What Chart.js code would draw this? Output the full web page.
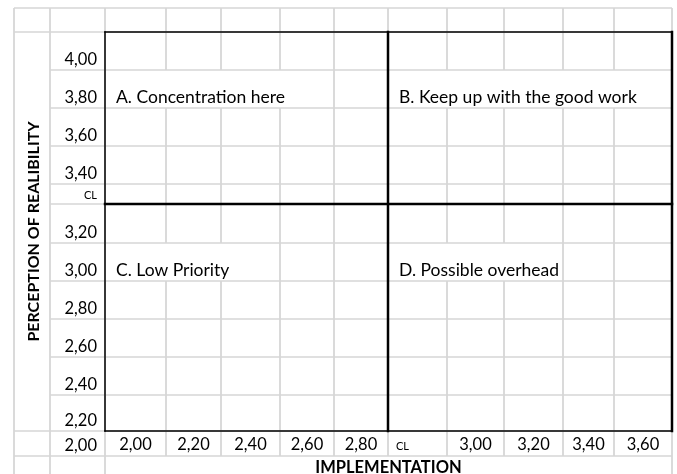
<!DOCTYPE html>
<html><head><meta charset="utf-8">
<script src="https://cdn.jsdelivr.net/npm/chart.js@4"></script>
<style>html,body{margin:0;padding:0;background:#fff;overflow:hidden}</style>
</head><body>
<canvas id="c" width="677" height="474"></canvas>
<script>
// ---------- data ----------
const xLabels = ['2,00','2,20','2,40','2,60','2,80','CL','3,00','3,20','3,40','3,60'];
const yLabels = ['4,00','3,80','3,60','3,40','CL','3,20','3,00','2,80','2,60','2,40','2,20','2,00'];
const centerLabel = 'CL';
const quadrantText = ['A. Concentration here','B. Keep up with the good work','C. Low Priority','D. Possible overhead'];
const quadrantRow  = ['3,80','3,80','3,00','3,00'];
const quadrantCol  = ['2,00','CL','2,00','CL'];
const xTitle = 'IMPLEMENTATION';
const yTitle = 'PERCEPTION OF REALIBILITY';

// ---------- layout (spreadsheet geometry, px) ----------
const colWidths = [61,55,59,54,54,59,57,59,51,58];
const rowHeights = [38,38,38,38,20,39,38,38,38,38,36,25];
const boxRows = 11;
const leftColWidths = [36,55];
const headerRowHeight = 24;
const titleRowHeight = 18;
const FONT = 'Lato';
const GRID = '#d6d6d6';
const textIndent = 11;
const textSize = 17.5;

const cum = a => a.reduce((acc, w) => (acc.push(acc[acc.length-1] + w), acc), [0]);
const xEdges = cum(colWidths);
const yEdges = cum(rowHeights);
const boxW = xEdges[xEdges.length-1];
const boxH = yEdges[boxRows];

const numFont = {family: FONT, size: 16.5, lineHeight: 1.2};
const smallFontX = {family: FONT, size: 11, lineHeight: 2.1};
const smallFontY = {family: FONT, size: 11, lineHeight: 1.2};

const mctx = document.createElement('canvas').getContext('2d');
function measure(t, f){ mctx.font = f.size + 'px ' + f.family; return mctx.measureText(t).width; }

const xTickVals = xLabels.map((l, i) => l === centerLabel
  ? xEdges[i] + 8 + measure(l, smallFontX) / 2
  : xEdges[i] + colWidths[i] / 2);
const yTickVals = yLabels.map((l, i) => yEdges[i+1] - (l === centerLabel ? 9 : 10));

const sheetPlugin = {
  id: 'sheet',
  beforeDraw(chart) {
    const {ctx, scales: {x, y}} = chart;
    const X = v => x.getPixelForValue(v), Y = v => y.getPixelForValue(v);
    const line = (x1, y1, x2, y2) => { ctx.beginPath(); ctx.moveTo(x1, y1); ctx.lineTo(x2, y2); ctx.stroke(); };
    ctx.save();
    ctx.fillStyle = '#fff'; ctx.fillRect(0, 0, chart.width, chart.height);
    const xL0 = -(leftColWidths[0] + leftColWidths[1]), xL1 = -leftColWidths[1];
    const yTop = -headerRowHeight, yBot = yEdges[yEdges.length-1] + titleRowHeight;

    // hidden vertical segments (text overflow into neighbouring cells)
    ctx.font = textSize + 'px ' + FONT;
    const hidden = [];
    quadrantText.forEach((t, k) => {
      const r = yLabels.indexOf(quadrantRow[k]);
      const c = xLabels.indexOf(quadrantCol[k]);
      const s = X(xEdges[c]) + textIndent, e = s + ctx.measureText(t).width;
      xEdges.forEach((ed, j) => { const p = X(ed); if (j > 0 && j < xEdges.length-1 && p > s && p < e + 2) hidden.push(j + ':' + r); });
    });

    ctx.strokeStyle = GRID;
    ctx.lineWidth = 1.5;
    line(X(xL0), Y(yTop), X(boxW), Y(yTop));
    yEdges.forEach((e, i) => {
      const from = (i === 0 || i >= boxRows) ? xL0 : xL1;
      line(X(from), Y(e), X(boxW), Y(e));
    });
    ctx.lineWidth = 1.8;
    [xL0, xL1, 0, boxW].forEach(v => line(X(v), Y(yTop), X(v), Y(yBot)));
    for (let j = 1; j < xEdges.length - 1; j++) {
      line(X(xEdges[j]), Y(yTop), X(xEdges[j]), Y(0));
      for (let r = 0; r < yLabels.length; r++) {
        if (hidden.includes(j + ':' + r)) continue;
        line(X(xEdges[j]), Y(yEdges[r]), X(xEdges[j]), Y(yEdges[r+1]));
      }
    }
    ctx.strokeStyle = '#000'; ctx.lineCap = 'square';
    ctx.lineWidth = 1.5;
    line(X(0), Y(0), X(boxW), Y(0));
    line(X(0), Y(0), X(0), Y(boxH));
    line(X(0), Y(boxH), X(boxW), Y(boxH));
    ctx.lineWidth = 2.5;
    line(X(boxW), Y(0), X(boxW), Y(boxH));
    const cx = xEdges[xLabels.indexOf(centerLabel)];
    const cy = yEdges[yLabels.indexOf(centerLabel) + 1];
    line(X(cx), Y(0), X(cx), Y(boxH));
    line(X(0), Y(cy), X(boxW), Y(cy));
    ctx.fillStyle = '#000'; ctx.textBaseline = 'alphabetic'; ctx.textAlign = 'left';
    quadrantText.forEach((t, k) => {
      const r = yLabels.indexOf(quadrantRow[k]);
      const c = xLabels.indexOf(quadrantCol[k]);
      ctx.fillText(t, X(xEdges[c]) + textIndent, Y(yEdges[r+1]) - 5);
    });
    ctx.restore();
  }
};

new Chart(document.getElementById('c'), {
  type: 'scatter',
  data: {datasets: []},
  options: {
    responsive: false, animation: false, events: [],
    layout: {padding: {left: 0, top: 32, right: 5, bottom: 0}},
    plugins: {legend: {display: false}, tooltip: {enabled: false}},
    scales: {
      x: {
        type: 'linear', position: 'bottom', min: 0, max: boxW, bounds: 'data',
        grid: {display: false, drawTicks: false}, border: {display: false},
        afterFit: s => { s.height = 43; },
        afterBuildTicks: s => { s.ticks = xTickVals.map(v => ({value: v})); },
        ticks: {
          autoSkip: false, maxRotation: 0, minRotation: 0, padding: 4.2, color: '#000',
          font: c => xLabels[c.index] === centerLabel ? smallFontX : numFont,
          callback: (v, i) => xLabels[i]
        },
        title: {display: true, text: xTitle, color: '#000',
          font: {family: FONT, size: 16.5, weight: 'bold', lineHeight: 0.8}, padding: {top: 0, bottom: 0}}
      },
      y: {
        type: 'linear', position: 'left', reverse: true, min: 0, max: boxH, bounds: 'data',
        grid: {display: false, drawTicks: false}, border: {display: false},
        afterFit: s => { s.width = 105; },
        afterBuildTicks: s => { s.ticks = yTickVals.map(v => ({value: v})); },
        ticks: {
          autoSkip: false, padding: 8, color: '#000',
          font: c => yLabels[c.index] === centerLabel ? smallFontY : numFont,
          callback: (v, i) => yLabels[i]
        },
        title: {display: true, text: yTitle, color: '#000',
          font: {family: FONT, size: 16, weight: 'bold', lineHeight: 1.2}, padding: {top: 24.5, bottom: 0}}
      }
    }
  },
  plugins: [sheetPlugin]
});
</script>
</body></html>
